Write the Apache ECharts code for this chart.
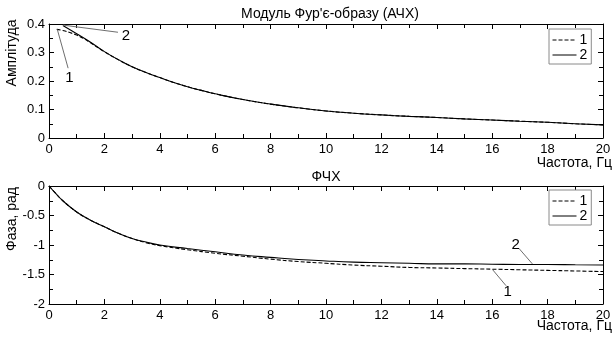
<!DOCTYPE html>
<html>
<head>
<meta charset="utf-8">
<script src="https://cdn.jsdelivr.net/npm/echarts@6/dist/echarts.min.js"></script>
<style>html,body{margin:0;padding:0;background:#fff}#c{width:614px;height:338px}</style>
</head>
<body>
<div id="c"></div>
<script>
// ---- data ----
const ampFreq1 = [0.28, 0.5, 0.75, 1, 1.25, 1.5, 2, 2.5, 3, 3.5, 4, 4.5, 5, 5.5, 6, 7, 8, 9, 10, 11, 12, 13, 14, 15, 16, 17, 18, 19, 20];
const amp1     = [0.381, 0.377, 0.370, 0.361, 0.349, 0.334, 0.303, 0.275, 0.250, 0.230, 0.212, 0.195, 0.180, 0.167, 0.155, 0.135, 0.119, 0.106, 0.095, 0.087, 0.081, 0.076, 0.072, 0.067, 0.063, 0.059, 0.055, 0.050, 0.046];
const ampFreq2 = [0.5, 1, 1.5, 2, 2.5, 3, 3.5, 4, 4.5, 5, 5.5, 6, 7, 8, 9, 10, 11, 12, 13, 14, 15, 16, 17, 18, 19, 20];
const amp2     = [0.395, 0.366, 0.336, 0.303, 0.275, 0.250, 0.230, 0.212, 0.195, 0.180, 0.167, 0.155, 0.135, 0.119, 0.106, 0.095, 0.087, 0.081, 0.076, 0.072, 0.067, 0.063, 0.059, 0.055, 0.050, 0.046];

const phaseFreq = [0, 0.25, 0.5, 1, 1.5, 2, 2.5, 3, 3.5, 4, 5, 6, 7, 8, 9, 10, 11, 12, 13, 14, 15, 16, 17, 18, 19, 20];
const phase1    = [0, -0.13, -0.25, -0.44, -0.58, -0.69, -0.80, -0.89, -0.96, -1.01, -1.08, -1.14, -1.19, -1.24, -1.28, -1.31, -1.34, -1.36, -1.38, -1.39, -1.40, -1.41, -1.42, -1.43, -1.44, -1.45];
const phase2    = [0, -0.13, -0.25, -0.44, -0.58, -0.69, -0.80, -0.89, -0.95, -1.00, -1.06, -1.115, -1.17, -1.21, -1.245, -1.27, -1.29, -1.30, -1.31, -1.32, -1.32, -1.325, -1.33, -1.33, -1.335, -1.34];

const seriesNames = ['1', '2'];
const xTicks = [0, 20, 2];
const ampTicks = [0, 0.4, 0.1];
const phaseTicks = [-2, 0, 0.5];

const titleTop = 'Модуль Фур\'є-образу (АЧХ)';
const titleBottom = 'ФЧХ';
const yNameTop = 'Амплітуда';
const yNameBottom = 'Фаза, рад';
const xName = 'Частота, Гц';

// annotation leader lines (data coords)
const annTop = [
  {label: '2', from: [0.51, 0.396], to: [2.49, 0.371], text: [2.78, 0.359]},
  {label: '1', from: [0.30, 0.381], to: [0.69, 0.245], text: [0.74, 0.212]}
];
const annBottom = [
  {label: '2', from: [16.97, -1.06], to: [17.45, -1.32], text: [16.85, -0.99]},
  {label: '1', from: [16.0, -1.41], to: [16.5, -1.69], text: [16.56, -1.80]}
];

const zip = (xs, ys) => xs.map((x, i) => [x, ys[i]]);
const FONT = 'Liberation Sans, Arial, sans-serif';
const DASH = [4, 2];

function annMarks(list) {
  return {
    markLine: {
      silent: true, symbol: ['none', 'none'], animation: false,
      label: {show: false},
      lineStyle: {color: '#6e6e6e', width: 1, type: 'solid'},
      data: list.map(a => [{coord: a.from}, {coord: a.to}])
    },
    markPoint: {
      silent: true, symbol: 'rect', symbolSize: 1, animation: false,
      itemStyle: {color: 'rgba(0,0,0,0)'},
      label: {show: true, position: 'inside', color: '#000', fontSize: 15, fontFamily: FONT, formatter: p => p.name},
      data: list.map(a => ({name: a.label, coord: a.text}))
    }
  };
}

function xAx(gridIndex, pos, labels) {
  return {
    type: 'value', gridIndex, position: pos, min: xTicks[0], max: xTicks[1], interval: xTicks[2],
    axisLine: {show: true, onZero: false, lineStyle: {color: '#000', width: 1}},
    axisTick: {show: true, inside: true, length: 5, lineStyle: {color: '#000'}},
    minorTick: {show: true, splitNumber: 2, length: 4, lineStyle: {color: '#000'}},
    splitLine: {show: false},
    axisLabel: {show: labels, color: '#000', fontSize: 13, fontFamily: FONT, margin: 5}
  };
}
function yAx(gridIndex, pos, t, labels) {
  return {
    type: 'value', gridIndex, position: pos, min: t[0], max: t[1], interval: t[2],
    axisLine: {show: true, onZero: false, lineStyle: {color: '#000', width: 1}},
    axisTick: {show: true, inside: true, length: 5, lineStyle: {color: '#000'}},
    minorTick: {show: true, splitNumber: 2, length: 4, lineStyle: {color: '#000'}},
    splitLine: {show: false},
    axisLabel: {show: labels, color: '#000', fontSize: 13, fontFamily: FONT, margin: 4}
  };
}

function lineSeries(name, data, xi, yi, dashed, extra) {
  return Object.assign({
    type: 'line', name, data, xAxisIndex: xi, yAxisIndex: yi,
    showSymbol: false, symbol: 'none', smooth: 0.5, animation: false,
    lineStyle: {color: '#000', width: 1.1, type: dashed ? DASH : 'solid'},
    itemStyle: {color: '#000'}, z: 3
  }, extra || {});
}

function legendAt(top) {
  return {
    orient: 'vertical', left: 549, top, data: seriesNames,
    itemWidth: 24, itemHeight: 10, itemGap: 1,
    padding: [4, 4, 2, 3], borderColor: '#8a8a8a', borderWidth: 1, backgroundColor: '#fff',
    selectedMode: false,
    itemStyle: {opacity: 0, borderWidth: 0},
    lineStyle: {width: 1, color: '#000'},
    textStyle: {color: '#000', fontSize: 14, lineHeight: 14, fontFamily: FONT, padding: [0, 0, 0, -2]}
  };
}

function txt(text, x, y, align, rot) {
  return {
    type: 'text', x, y, rotation: rot || 0, silent: true,
    style: {text, fill: '#000', font: '14px ' + FONT, align, verticalAlign: 'middle', textAlign: align, textVerticalAlign: 'middle'}
  };
}

const chart = echarts.init(document.getElementById('c'), null, {renderer: 'canvas'});
chart.setOption({
  backgroundColor: '#fff',
  animation: false,
  grid: [
    {left: 49, right: 11, top: 24, height: 114, containLabel: false},
    {left: 49, right: 11, top: 186, height: 118, containLabel: false}
  ],
  xAxis: [xAx(0, 'bottom', true), xAx(1, 'bottom', true), xAx(0, 'top', false), xAx(1, 'top', false)],
  yAxis: [yAx(0, 'left', ampTicks, true), yAx(1, 'left', phaseTicks, true), yAx(0, 'right', ampTicks, false), yAx(1, 'right', phaseTicks, false)],
  legend: [legendAt(29), legendAt(190)],
  series: [
    lineSeries(seriesNames[0], zip(ampFreq1, amp1), 0, 0, true, annMarks(annTop)),
    lineSeries(seriesNames[1], zip(ampFreq2, amp2), 0, 0, false),
    lineSeries(seriesNames[0], zip(phaseFreq, phase1), 1, 1, true, annMarks(annBottom)),
    lineSeries(seriesNames[1], zip(phaseFreq, phase2), 1, 1, false)
  ],
  graphic: [
    txt(titleTop, 330, 14, 'center'),
    txt(titleBottom, 326, 177, 'center'),
    txt(yNameTop, 12, 53, 'center', Math.PI / 2),
    txt(yNameBottom, 12, 219, 'center', Math.PI / 2),
    txt(xName, 612, 163, 'right'),
    txt(xName, 612, 326, 'right')
  ]
});
</script>
</body>
</html>
